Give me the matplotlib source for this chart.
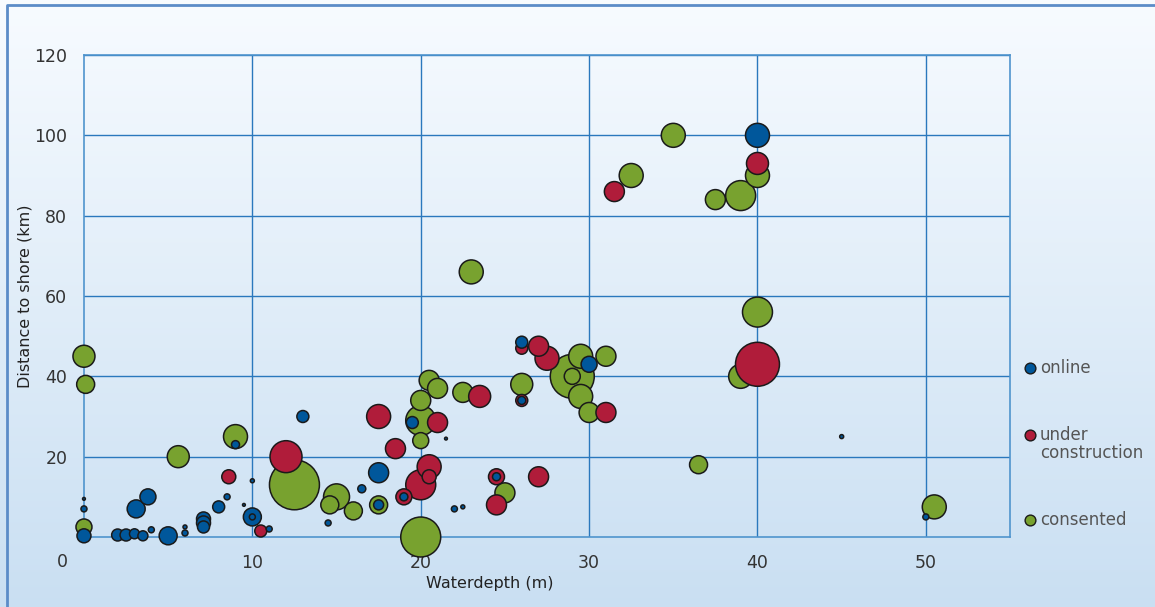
import matplotlib.pyplot as plt
import numpy as np

# Offshore wind farms: water depth (m), distance to shore (km), capacity (MW)
online_depth = [40, 30, 26, 26, 24.5, 13, 9, 17.5, 19.5, 17.5, 19, 16.5, 22, 14.5,
                3.8, 3.1, 8, 8.5, 7.1, 7.1, 7.1, 10, 10, 5, 2, 2.5, 3, 3.5, 0, 0,
                4, 6, 6, 11, 10, 45, 50, 22.5, 21.5, 0, 9.5]
online_dist = [100, 43, 48.5, 34, 15, 30, 23, 16, 28.5, 8, 10, 12, 7, 3.5,
               10, 7, 7.5, 10, 3.5, 4.5, 2.5, 5, 5, 0.3, 0.5, 0.5, 0.8, 0.3, 0.3, 7,
               1.8, 1, 2.5, 2, 14, 25, 5, 7.5, 24.5, 9.5, 8]
online_mw = [144, 64, 36, 16, 16, 36, 16, 100, 36, 25, 16, 16, 9, 9,
             64, 81, 36, 9, 49, 49, 36, 81, 9, 81, 36, 36, 25, 25, 49, 9,
             9, 9, 4, 9, 4, 4, 9, 4, 2, 2, 2]

construction_depth = [8.6, 10.5, 12, 17.5, 18.5, 19, 20, 20.5, 20.5, 21, 23.5, 24.5,
                      24.5, 27, 26, 27, 27.5, 26, 31, 31.5, 40, 40]
construction_dist = [15, 1.5, 20, 30, 22, 10, 13, 17.5, 15, 28.5, 35, 15,
                     8, 15, 47, 47.5, 44.5, 34, 31, 86, 93, 43]
construction_mw = [49, 36, 256, 144, 100, 64, 225, 144, 49, 100, 121, 64,
                   100, 100, 36, 100, 144, 36, 100, 100, 121, 484]

consented_depth = [0, 0.1, 0, 5.6, 9, 12.5, 15, 14.6, 16, 17.5, 20, 20, 20, 20,
                   20.5, 21, 22.5, 23, 25, 26, 29, 29.5, 29, 29.5, 30, 31, 32.5,
                   35, 37.5, 39, 40, 40, 39, 36.5, 50.5]
consented_dist = [45, 38, 2.5, 20, 25, 13, 10, 8, 6.5, 8, 0, 29, 24, 34,
                  39, 37, 36, 66, 11, 38, 40, 45, 40, 35, 31, 45, 90,
                  100, 84, 85, 90, 56, 40, 18, 7.5]
consented_mw = [121, 81, 64, 121, 144, 625, 169, 81, 81, 81, 400, 225, 64, 100,
                100, 100, 100, 144, 100, 121, 484, 144, 64, 144, 100, 100, 144,
                144, 100, 225, 144, 225, 144, 81, 144]

series = [
    ('consented', consented_depth, consented_dist, consented_mw, '#78a22f'),
    ('under\nconstruction', construction_depth, construction_dist, construction_mw, '#b01c3a'),
    ('online', online_depth, online_dist, online_mw, '#00579b'),
]

fig = plt.figure(figsize=(11.55, 6.07), dpi=100)

# Background gradient over the whole figure
bg = fig.add_axes([0, 0, 1, 1], zorder=-10)
top = np.array([0.97, 0.985, 1.0])
bottom = np.array([0.79, 0.875, 0.95])
t = np.linspace(0, 1, 256)[:, None]
grad = top + (bottom - top) * t
bg.imshow(np.repeat(grad[:, None, :], 2, axis=1), aspect='auto', extent=[0, 1, 0, 1])
bg.plot([0.006, 0.006, 1.0], [0.0, 0.992, 0.992], color='#5b8cc8', lw=2)
bg.set_xlim(0, 1)
bg.set_ylim(0, 1)
bg.axis('off')

ax = fig.add_axes([0.0727, 0.1153, 0.8018, 0.7941])
ax.patch.set_alpha(0)

for name, xs, ys, mw, col in series:
    xs, ys, mw = np.array(xs), np.array(ys), np.array(mw)
    order = np.argsort(-mw)
    ax.scatter(xs[order], ys[order], s=mw[order] * 2.07, color=col,
               edgecolors='#1a1a1a', linewidths=1.1, zorder=3, clip_on=False)

ax.set_xlim(0, 55)
ax.set_ylim(0, 120)
ax.set_xticks(range(10, 51, 10))
ax.set_yticks(range(20, 121, 20))
ax.grid(True, color='#2a78bd', lw=1.0)
ax.set_axisbelow(True)
for side in ['left', 'bottom', 'right', 'top']:
    ax.spines[side].set_color('#4f94cd')
    ax.spines[side].set_linewidth(1.2)
ax.tick_params(length=0, labelsize=12.5, labelcolor='#333333', pad=12)
ax.text(-1.3, -6.2, '0', fontsize=12.5, color='#333333', ha='center', va='center', clip_on=False)

ax.set_xlabel('Waterdepth (m)', fontsize=11.5, color='#222222')
ax.xaxis.set_label_coords(0.438, -0.08)
ax.set_ylabel('Distance to shore (km)', fontsize=11.5, color='#222222')
ax.yaxis.set_label_coords(-0.056, 0.5)

# Legend at the right of the plot
legend_y = {'online': 0.351, 'under\nconstruction': 0.193, 'consented': 0.035}
for name, xs, ys, mw, col in series:
    yy = legend_y[name]
    ax.scatter([1.0216], [yy + (0.019 if '\n' in name else 0)], s=60, color=col,
               edgecolors='#1a1a1a', linewidths=1.0, transform=ax.transAxes, clip_on=False)
    ax.text(1.032, yy, name, transform=ax.transAxes, fontsize=12, color='#555555',
            va='center', ha='left', linespacing=0.95)

fig.savefig('out.png', dpi=100)
